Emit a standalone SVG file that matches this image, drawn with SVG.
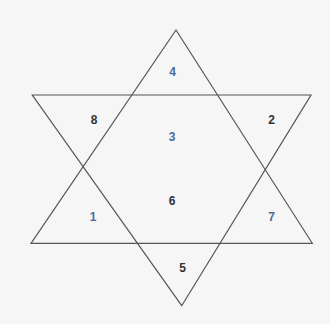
<svg xmlns="http://www.w3.org/2000/svg" width="330" height="324" viewBox="0 0 330 324">
<style>
.tri{fill:none;stroke:#555;stroke-width:1.2;stroke-linejoin:miter}
.lbl{font-family:"Liberation Sans",Arial,sans-serif;font-size:12px;font-weight:bold;text-anchor:middle;dominant-baseline:central}
.b{fill:#4a6a9e}
.k{fill:#333}
</style>
<rect width="330" height="324" fill="#f6f6f6"/>
<g id="connectors">
<polygon id="up" class="tri" points="176,30 31,243.3 312.3,243.3"/>
<polygon id="down" class="tri" points="32.3,95 311,95 181.7,305.7"/>
</g>
<g id="n4"><text class="lbl b" x="172.7" y="71.7">4</text></g>
<g id="n8"><text class="lbl k" x="94" y="120">8</text></g>
<g id="n2"><text class="lbl k" x="271.7" y="120">2</text></g>
<g id="n3"><text class="lbl b" x="172" y="136.7">3</text></g>
<g id="n6"><text class="lbl k" x="172" y="201">6</text></g>
<g id="n1"><text class="lbl b" x="93" y="216.7">1</text></g>
<g id="n7"><text class="lbl b" x="271.7" y="216.7">7</text></g>
<g id="n5"><text class="lbl k" x="182.7" y="268.3">5</text></g>
</svg>
